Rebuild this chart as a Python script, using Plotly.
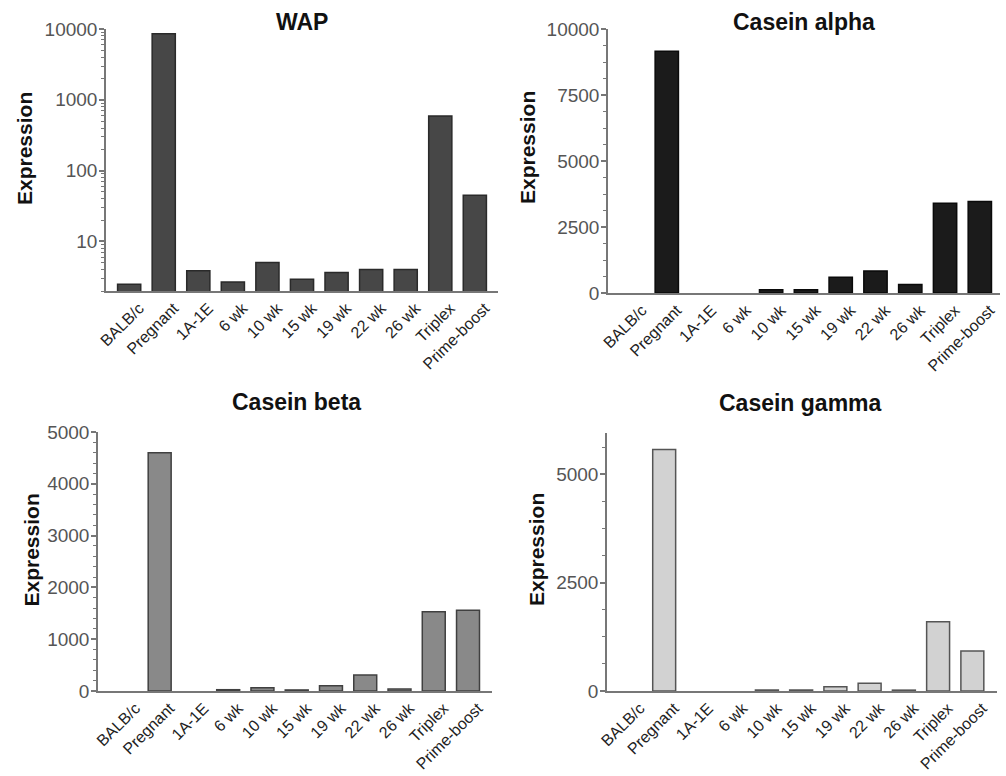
import plotly.graph_objects as go

W, H = 1006, 776

categories = ["BALB/c", "Pregnant", "1A-1E", "6 wk", "10 wk", "15 wk",
              "19 wk", "22 wk", "26 wk", "Triplex", "Prime-boost"]

wap = [2.5, 8600, 3.85, 2.67, 5.06, 2.94, 3.66, 4.03, 4.03, 590, 45]
casein_alpha = [0, 9160, 0, 0, 120, 120, 600, 835, 320, 3395, 3470]
casein_beta = [0, 4600, 0, 25, 64, 20, 103, 308, 38, 1528, 1561]
casein_gamma = [0, 5570, 0, 0, 23, 23, 99, 177, 20, 1597, 922]

titles = ["WAP", "Casein alpha", "Casein beta", "Casein gamma"]
colors = ["#474747", "#1b1b1b", "#898989", "#d2d2d2"]
outline = ["#2a2a2a", "#0a0a0a", "#404040", "#555555"]

# plot areas in pixels: (left, right, top, bottom)
boxes = [(106, 498, 29, 291), (608, 1000, 29, 293),
         (98, 492, 432, 691), (607, 997, 433, 691)]
xranges = [[-0.67, 10.67], [-0.69, 10.58], [-0.8, 10.7], [-0.67, 10.72]]

series = [wap, casein_alpha, casein_beta, casein_gamma]

fig = go.Figure()
tickfont = dict(family="Liberation Sans, Arial", size=19, color="#555555")
xtickfont = dict(family="Liberation Sans, Arial", size=16, color="#222222")

for i, (vals, box) in enumerate(zip(series, boxes)):
    n = i + 1
    xa = "x" if n == 1 else f"x{n}"
    ya = "y" if n == 1 else f"y{n}"
    fig.add_trace(go.Bar(
        x=list(range(len(categories))), y=vals, xaxis=xa, yaxis=ya,
        marker=dict(color=colors[i],
                    line=dict(color=outline[i],
                              width=[0 if v == 0 else 1.5 for v in vals])),
        width=0.67, showlegend=False))
    l, r, t, b = box
    xkey = "xaxis" if n == 1 else f"xaxis{n}"
    ykey = "yaxis" if n == 1 else f"yaxis{n}"
    fig.layout[xkey] = dict(
        domain=[l / W, r / W], anchor=ya, range=xranges[i],
        tickmode="array", tickvals=list(range(len(categories))),
        ticktext=categories, tickangle=-45, tickfont=xtickfont,
        ticklabelshift=10, ticklabelstandoff=0,
        showline=True, linecolor="#777777", linewidth=1.5,
        ticks="", showgrid=False, zeroline=False, fixedrange=True,
        automargin=False)
    ydict = dict(
        domain=[1 - b / H, 1 - t / H], anchor=xa,
        showline=True, linecolor="#777777", linewidth=1.5,
        ticks="outside", ticklen=5, tickcolor="#777777", tickwidth=1.5,
        ticklabelstandoff=-2,
        tickfont=tickfont, showgrid=False, zeroline=False, fixedrange=True,
        tickformat="d", automargin=False)
    minor = dict(ticks="outside", ticklen=3, tickcolor="#777777", tickwidth=1.2,
                 showgrid=False)
    if i == 0:
        ydict.update(type="log", range=[0.301, 4.0], tick0=0, dtick=1,
                     minor=dict(minor, dtick="D1"))
    elif i == 1:
        ydict.update(range=[0, 10000], tick0=0, dtick=2500,
                     minor=dict(minor, dtick=625))
    elif i == 2:
        ydict.update(range=[0, 5000], tick0=0, dtick=1000,
                     minor=dict(minor, dtick=200))
    else:
        ydict.update(range=[0, 5950], tick0=0, dtick=2500,
                     minor=dict(minor, dtick=625))
    fig.layout[ykey] = ydict

# titles
title_pos = [(302, 21.5), (804, 22), (296, 402), (800, 403)]
ylab_pos = [(24.5, 148.5), (527, 148), (30.5, 550), (536, 550)]
annotations = []
for i in range(4):
    tx, ty = title_pos[i]
    annotations.append(dict(
        text=f"<b>{titles[i]}</b>", x=tx / W, y=1 - ty / H, xref="paper", yref="paper",
        showarrow=False, xanchor="center", yanchor="middle",
        font=dict(family="Liberation Sans, Arial", size=23, color="#111111")))
    lx, ly = ylab_pos[i]
    annotations.append(dict(
        text="<b>Expression</b>", x=lx / W, y=1 - ly / H, xref="paper", yref="paper",
        showarrow=False, xanchor="center", yanchor="middle", textangle=-90,
        font=dict(family="Liberation Sans, Arial", size=21, color="#111111")))

fig.update_layout(
    width=W, height=H, margin=dict(l=0, r=0, t=0, b=0, autoexpand=False),
    paper_bgcolor="white", plot_bgcolor="white",
    bargap=0.33, annotations=annotations)

fig.write_html("out.html")
